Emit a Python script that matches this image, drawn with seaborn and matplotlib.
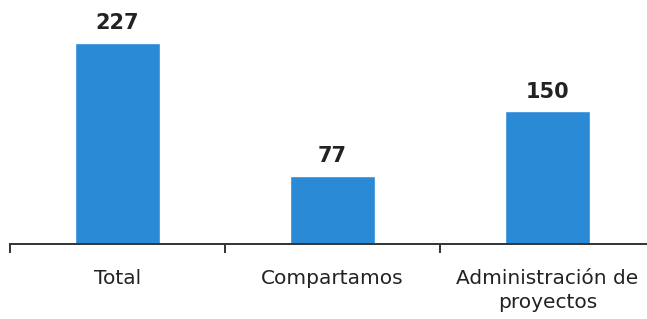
import matplotlib
matplotlib.use("Agg")
import matplotlib.pyplot as plt
import seaborn as sns
import pandas as pd
from matplotlib.ticker import FixedLocator

categories = ["Total", "Compartamos", "Administración de\nproyectos"]
values = [227, 77, 150]

sns.set_theme(style="white")
plt.rcParams['font.family'] = ['DejaVu Sans']

df = pd.DataFrame({"cat": categories, "val": values})

fig = plt.figure(figsize=(6.47, 3.19), dpi=100)
ax = fig.add_axes([10/647, 75/319, 637/647, 230/319])

sns.barplot(data=df, x="cat", y="val", color="#2b8ad6", saturation=1,
            width=0.395, ax=ax)

for c in ax.containers:
    ax.bar_label(c, padding=7, fontsize=15, fontweight="bold", color="#222222")

ax.set_xlim(-0.5, 2.463)
ax.set_ylim(0, 260)
ax.set_xlabel("")
ax.set_ylabel("")
ax.set_yticks([])
for s in ["top", "right", "left"]:
    ax.spines[s].set_visible(False)
ax.spines["bottom"].set_color("#333333")
ax.spines["bottom"].set_linewidth(1.4)

ax.xaxis.set_minor_locator(FixedLocator([-0.5, 0.5, 1.5]))
ax.tick_params(axis="x", which="major", length=0, pad=18, labelsize=14.5,
               labelcolor="#222222")
for lbl in ax.get_xticklabels():
    lbl.set_linespacing(1.3)
ax.tick_params(axis="x", which="minor", length=6.5, width=1.4, color="#333333",
               direction="out", bottom=True)

fig.savefig("out.png", dpi=100)
